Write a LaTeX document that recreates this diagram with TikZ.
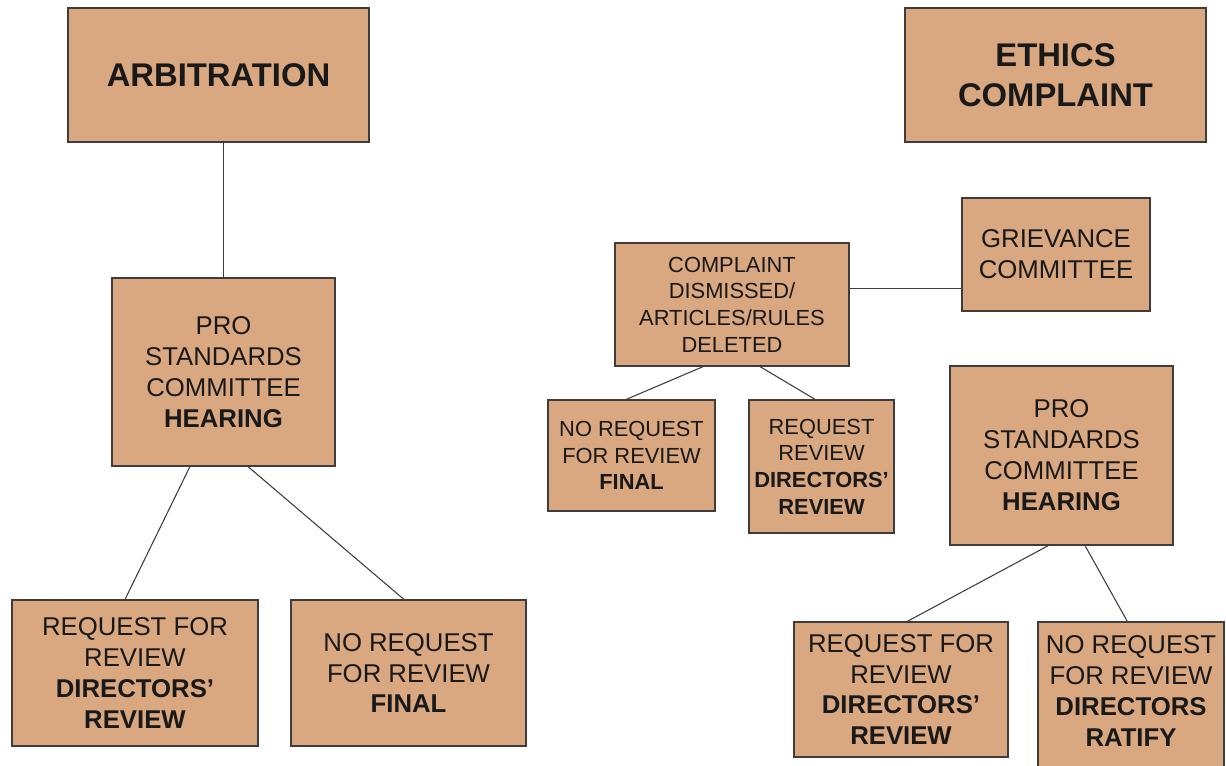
\documentclass[tikz,border=0pt]{standalone}
\usepackage{fontspec}
\setmainfont{Liberation Sans}
\usetikzlibrary{calc}
\definecolor{boxfill}{RGB}{217,168,128}
\definecolor{boxline}{RGB}{64,60,58}
\tikzset{
  box/.style={draw=boxline, fill=boxfill, line width=1.1pt, text=black!90, align=center, inner sep=0pt},
  bigtext/.style={font=\fontsize{24.6}{30}\selectfont\bfseries},
  midtext/.style={font=\fontsize{19.3}{23.2}\selectfont},
  smalltext/.style={font=\fontsize{16.4}{20}\selectfont},
  link/.style={draw=boxline, line width=0.8pt}
}
\begin{document}
\begin{tikzpicture}[x=0.75pt,y=-0.75pt]
\pgfmathsetlengthmacro\px{0.75pt};
\useasboundingbox (0,0) rectangle (1226,765);
% arbitration side
\node[box, bigtext, minimum width=301*\px, minimum height=134*\px] (arb) at (218.5,75) {ARBITRATION};
\node[box, midtext, minimum width=223*\px, minimum height=188*\px] (proL) at (223.5,372) {PRO\\STANDARDS\\COMMITTEE\\\textbf{HEARING}};
\node[box, midtext, minimum width=246*\px, minimum height=146*\px] (reqL) at (135,673) {REQUEST FOR\\REVIEW\\\textbf{DIRECTORS'}\\\textbf{REVIEW}};
\node[box, midtext, minimum width=235*\px, minimum height=146*\px] (noreqL) at (408.5,673) {NO REQUEST\\FOR REVIEW\\\textbf{FINAL}};
% ethics side
\node[box, bigtext, minimum width=301*\px, minimum height=134*\px] (ethics) at (1055.5,75) {ETHICS\\COMPLAINT};
\node[box, midtext, minimum width=188*\px, minimum height=113*\px] (griev) at (1056,254.5) {GRIEVANCE\\COMMITTEE};
\node[box, smalltext, minimum width=234*\px, minimum height=123*\px] (dism) at (732,304.5) {COMPLAINT\\DISMISSED/\\ARTICLES/RULES\\DELETED};
\node[box, smalltext, minimum width=167*\px, minimum height=111*\px] (noreqS) at (631.5,455.5) {NO REQUEST\\FOR REVIEW\\\textbf{FINAL}};
\node[box, smalltext, minimum width=145*\px, minimum height=133*\px] (reqS) at (821.5,466.5) {REQUEST\\REVIEW\\\textbf{DIRECTORS'}\\\textbf{REVIEW}};
\node[box, midtext, minimum width=223*\px, minimum height=179*\px] (proR) at (1061.5,455.5) {PRO\\STANDARDS\\COMMITTEE\\\textbf{HEARING}};
\node[box, midtext, minimum width=214*\px, minimum height=135*\px] (reqR) at (901,689.5) {REQUEST FOR\\REVIEW\\\textbf{DIRECTORS'}\\\textbf{REVIEW}};
\node[box, midtext, minimum width=186*\px, minimum height=150*\px, text depth=9pt] (ratify) at (1131,697) {NO REQUEST\\FOR REVIEW\\\textbf{DIRECTORS}\\\textbf{RATIFY}};
% connectors
\draw[link] (proL.north |- arb.south) -- (proL.north);
\draw[link] ($(proL.south west)!0.35!(proL.south east)$) -- ($(reqL.north west)!0.46!(reqL.north east)$);
\draw[link] ($(proL.south west)!0.61!(proL.south east)$) -- ($(noreqL.north west)!0.48!(noreqL.north east)$);
\draw[link] ($(ethics.south west)!0.48!(ethics.south east)$) -- ($(ethics.south west)!0.48!(ethics.south east)$ |- griev.north);
\coordinate (gl) at ($(griev.north west)!0.8!(griev.south west)$);
\draw[link] (gl) -- (gl -| dism.east);
\draw[link] ($(griev.south west)!0.47!(griev.south east)$) -- ($(griev.south west)!0.47!(griev.south east)$ |- proR.north);
\draw[link] ($(dism.south west)!0.376!(dism.south east)$) -- ($(noreqS.north west)!0.47!(noreqS.north east)$);
\draw[link] ($(dism.south west)!0.62!(dism.south east)$) -- ($(reqS.north west)!0.455!(reqS.north east)$);
\draw[link] ($(proR.south west)!0.44!(proR.south east)$) -- ($(reqR.north west)!0.53!(reqR.north east)$);
\draw[link] ($(proR.south west)!0.605!(proR.south east)$) -- ($(ratify.north west)!0.48!(ratify.north east)$);
\end{tikzpicture}
\end{document}
